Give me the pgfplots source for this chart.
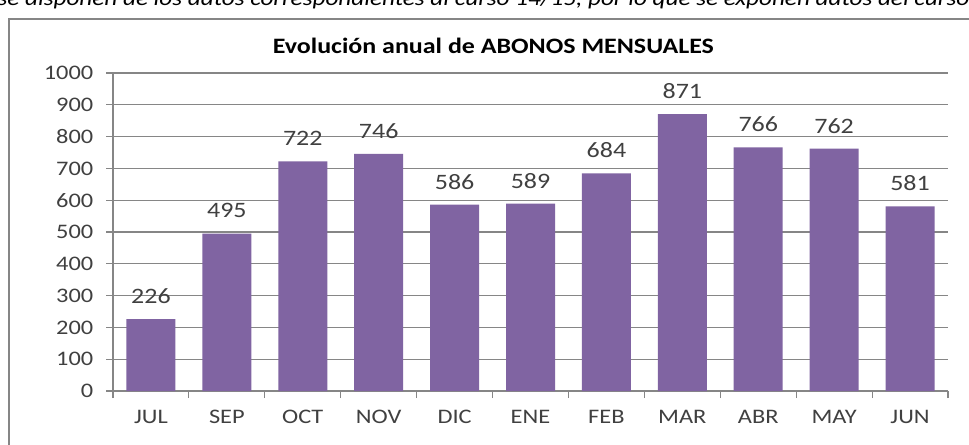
\documentclass[border=0pt]{standalone}
\usepackage{pgfplots}
\usepackage{fontspec}
\setmainfont{Carlito}[FakeStretch=1.18]
\pgfplotsset{compat=1.18}
\definecolor{barpurple}{HTML}{8064A2}
\definecolor{axisgray}{HTML}{868686}
\definecolor{labelgray}{HTML}{404040}

\begin{document}
\begin{tikzpicture}
  % picture is 969 x 444 px, 1 px = 0.75pt, y runs downwards
  \useasboundingbox (0,0) rectangle (726.75pt,-333pt);
  \fill[white] (0,0) rectangle (726.75pt,-333pt);
  \clip (0,0) rectangle (726.75pt,-333pt);

  % cut-off line of the surrounding text
  \node[anchor=base west, inner sep=0pt, font=\fontsize{16pt}{18pt}\selectfont\itshape]
    at (-2pt,-4pt) {se disponen de los datos correspondientes al curso 14/15, por lo que se exponen datos del curso anterior};

  % chart frame (only left and top visible)
  \draw[axisgray, line width=1.5pt] (6.75pt,-340pt) -- (6.75pt,-14.25pt) -- (740pt,-14.25pt);

  \node[font=\fontsize{16.5pt}{18pt}\selectfont\bfseries] at (370pt,-34.5pt)
    {Evolución anual de ABONOS MENSUALES};

  \begin{axis}[
      at={(84.75pt,-293.25pt)}, anchor=south west,
      scale only axis,
      width=626.25pt, height=238.5pt,
      ybar, bar width=36.75pt,
      xmin=-0.5, xmax=10.5,
      ymin=0, ymax=1000,
      ytick distance=100,
      axis x line*=bottom, axis y line*=left,
      axis line style={axisgray, line width=0.8pt},
      ymajorgrids,
      grid style={axisgray, line width=0.8pt},
      tick style={axisgray, line width=0.8pt},
      tick align=outside,
      major tick length=5.25pt,
      xtick={-0.5,0.5,...,10.5},
      xticklabels={},
      extra x ticks={0,1,2,3,4,5,6,7,8,9,10},
      extra x tick labels={JUL,SEP,OCT,NOV,DIC,ENE,FEB,MAR,ABR,MAY,JUN},
      extra x tick style={major tick length=0pt, grid=none},
      ticklabel style={font=\fontsize{15.5pt}{18pt}\selectfont, text=labelgray},
      /pgf/number format/assume math mode=true,
      /pgf/number format/1000 sep={},
      xticklabel style={anchor=north, text height=11pt, text depth=0pt, yshift=-10pt},
      yticklabel style={xshift=-6pt},
      nodes near coords,
      nodes near coords style={font=\fontsize{16.5pt}{18pt}\selectfont, text=labelgray,
        anchor=center, yshift=17.25pt},
    ]
    \addplot[fill=barpurple, draw=none] coordinates {
      (0,226) (1,495) (2,722) (3,746) (4,586) (5,589)
      (6,684) (7,871) (8,766) (9,762) (10,581)
    };
  \end{axis}
\end{tikzpicture}
\end{document}
